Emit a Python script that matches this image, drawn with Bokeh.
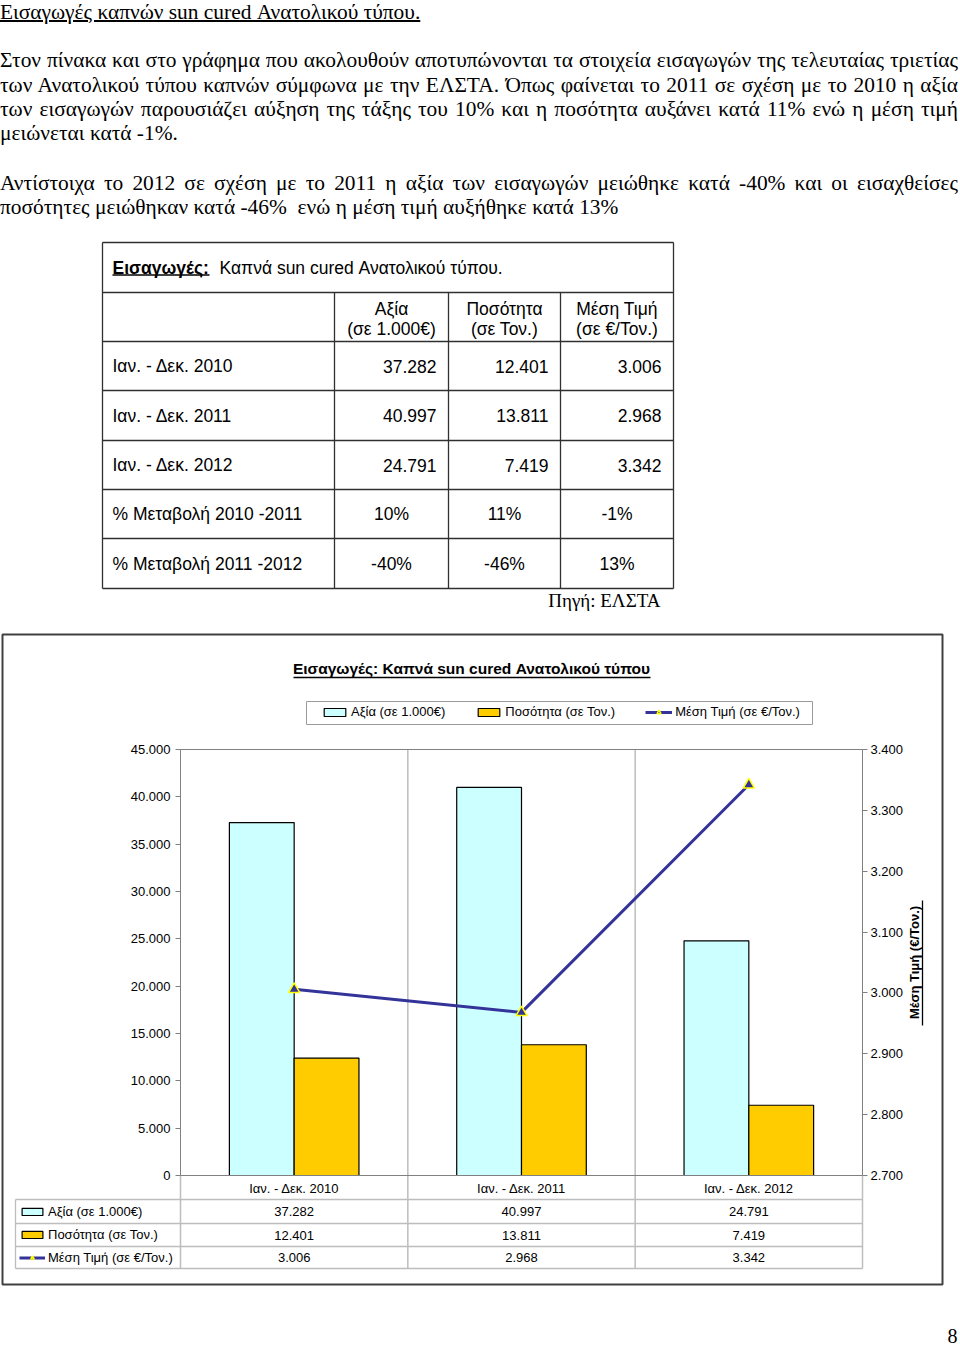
from bokeh.plotting import figure
from bokeh.models import (Range1d, LinearAxis, FixedTicker, Legend, LegendItem, Div,
                          ColumnDataSource, CustomJSTickFormatter)
from bokeh.transform import dodge
from bokeh.layouts import column
from bokeh.embed import file_html
from bokeh.resources import INLINE
from bokeh.core.properties import value
import math

# ---------------- data ----------------
periods = ["Ιαν. - Δεκ. 2010", "Ιαν. - Δεκ. 2011", "Ιαν. - Δεκ. 2012"]
value_keur = [37282, 40997, 24791]          # Αξία (σε 1.000€)
quantity_t = [12401, 13811, 7419]           # Ποσότητα (σε Τον.)
price_eur_t = [3006, 2968, 3342]            # Μέση Τιμή (σε €/Τον.)
change_labels = ["% Μεταβολή  2010 -2011", "% Μεταβολή  2011 -2012"]
change_value = ["10%", "-40%"]
change_qty = ["11%", "-46%"]
change_price = ["-1%", "13%"]
series_names = ["Αξία (σε 1.000€)", "Ποσότητα (σε Τον.)", "Μέση Τιμή (σε €/Τον.)"]
col_heads = [("Αξία", "(σε 1.000€)"), ("Ποσότητα", "(σε Τον.)"), ("Μέση Τιμή", "(σε €/Τον.)")]
left_ticks = [0, 5000, 10000, 15000, 20000, 25000, 30000, 35000, 40000, 45000]
right_ticks = [2700, 2800, 2900, 3000, 3100, 3200, 3300, 3400]

SANS = "Liberation Sans"
SERIF = "Liberation Serif"


def fmt(v):
    return f"{v:,}".replace(",", ".")


# ---------------- top text (justified paragraphs, HTML) ----------------
SX = 1.07
text_lines = [
    (18.3, "Εισαγωγές καπνών sun cured Ανατολικού τύπου.", "title"),
    (67.0, "Στον πίνακα και στο γράφημα που ακολουθούν αποτυπώνονται τα στοιχεία εισαγωγών της τελευταίας τριετίας", "j"),
    (91.5, "των Ανατολικού τύπου καπνών σύμφωνα με την ΕΛΣΤΑ. Όπως φαίνεται το 2011 σε σχέση με το 2010 η αξία", "j"),
    (116.0, "των εισαγωγών παρουσιάζει αύξηση της τάξης του 10% και η ποσότητα αυξάνει κατά 11% ενώ η μέση τιμή", "j"),
    (140.0, "μειώνεται κατά -1%.", "l"),
    (190.0, "Αντίστοιχα το 2012 σε σχέση με το 2011 η αξία των εισαγωγών μειώθηκε κατά -40% και οι εισαχθείσες", "j"),
    (214.0, "ποσότητες μειώθηκαν κατά -46%&nbsp; ενώ η μέση τιμή αυξήθηκε κατά 13%", "l"),
]
parts = []
for base, txt_, kind in text_lines:
    top = base - 16.75
    style = (f"position:absolute;left:0;top:{top:.1f}px;line-height:20px;white-space:nowrap;"
             f"transform:scaleX({SX});transform-origin:0 0;")
    if kind == "j":
        style += f"width:{958 / SX:.1f}px;text-align:justify;text-align-last:justify;"
    elif kind == "title":
        style += "text-decoration:underline;"
    parts.append(f'<div style="{style}">{txt_}</div>')
html = (f'<div style="position:relative;width:960px;height:230px;font-family:\'{SERIF}\',serif;'
        f'font-size:20px;color:#000;">' + "".join(parts) + "</div>")
div = Div(text=html, width=960, height=230, margin=0)

# ---------------- one canvas for table + chart (page pixel coordinates) ----------------
PT, PB = 230, 1345                     # page span of this canvas
FL, FR, FT, FB = 180, 862, 749, 1175   # plot-area edges on the page
VMAX, PMIN, PMAX = 45000, 2700, 3400

fp = figure(width=960, height=PB - PT, x_range=Range1d(0, 960), y_range=Range1d(PB, PT),
            x_axis_type=None, y_axis_type=None, min_border=0, outline_line_color=None,
            title=None, toolbar_location=None, output_backend="svg", margin=0)
fp.grid.visible = False
fp.background_fill_color = "white"

unit = (FR - FL) / len(periods)
fp.extra_x_ranges = {"cat": Range1d((0 - FL) / unit, (960 - FL) / unit)}
vpp = VMAX / (FB - FT)
ppp = (PMAX - PMIN) / (FB - FT)
fp.extra_y_ranges = {"val": Range1d((FB - PB) * vpp, (FB - PT) * vpp),
                     "price": Range1d(PMIN + (FB - PB) * ppp, PMIN + (FB - PT) * ppp)}


def txt(x, y, t, size, align="left", font=SANS, style="normal", angle=0.0, **kw):
    fp.text(x=x, y=y, text=t, text_font=value(font), text_font_size=size,
            text_font_style=style, text_baseline="middle", text_align=align,
            text_color="#000", angle=angle, **kw)


# ---- summary table ----
rows = [242, 292, 341, 390, 440, 489, 538, 588]
cols = [102, 334, 448, 560, 673]
x0s, y0s, x1s, y1s = [], [], [], []
for y in rows:
    x0s.append(cols[0]); x1s.append(cols[-1]); y0s.append(y); y1s.append(y)
for i, x in enumerate(cols):
    x0s.append(x); x1s.append(x)
    y0s.append(rows[0] if i in (0, len(cols) - 1) else rows[1]); y1s.append(rows[-1])
fp.segment(x0=x0s, y0=y0s, x1=x1s, y1=y1s, line_color="#303030", line_width=1.3)

tfs = "17.5px"
txt([112], [267], ["Εισαγωγές:"], tfs, style="bold")
fp.segment(x0=[112], y0=[274.5], x1=[209], y1=[274.5], line_color="#000", line_width=1.4)
txt([219], [267], ["Καπνά sun cured Ανατολικού τύπου."], tfs)
centers = [(cols[i] + cols[i + 1]) / 2 for i in range(1, 4)]
txt(centers, [308] * 3, [h[0] for h in col_heads], tfs, align="center")
txt(centers, [328] * 3, [h[1] for h in col_heads], tfs, align="center")
row_mid = [(rows[k] + rows[k + 1]) / 2 for k in range(2, 7)]
txt([112] * 5, row_mid, periods + change_labels, tfs)
for c, arr in enumerate([value_keur, quantity_t, price_eur_t]):
    txt([cols[c + 2] - 12] * 3, row_mid[:3], [fmt(v) for v in arr], tfs, align="right")
for c, arr in enumerate([change_value, change_qty, change_price]):
    txt([centers[c]] * 2, row_mid[3:], arr, tfs, align="center")
txt([660], [600], ["Πηγή: ΕΛΣΤΑ"], "19px", align="right", font=SERIF)

# ---- chart ----
cx = [i + 0.5 for i in range(len(periods))]
src = ColumnDataSource(dict(cx=cx, val=value_keur, qty=quantity_t, price=price_eur_t))

GRID = "#BDBDBD"
tab_rows = [1199, 1223, 1246, 1268]
edges = list(range(len(periods) + 1))
fp.segment(x0=edges, x1=edges,
           y0=[FB if i in (0, len(edges) - 1) else FT for i in edges],
           y1=[tab_rows[-1]] * len(edges), x_range_name="cat", line_color=GRID, line_width=1.5)
fp.segment(x0=[15] * len(tab_rows), x1=[FR] * len(tab_rows), y0=tab_rows, y1=tab_rows,
           line_color=GRID, line_width=1.3)
fp.segment(x0=[15], x1=[15], y0=[tab_rows[0]], y1=[tab_rows[-1]], line_color=GRID,
           line_width=1.3)
# plot-area top border
fp.segment(x0=[0], x1=[len(periods)], y0=[VMAX], y1=[VMAX], x_range_name="cat",
           y_range_name="val", line_color="#808080", line_width=1)

# box behind the top legend
fp.rect(x=[(306 + 812) / 2], y=[(701 + 724) / 2], width=[506], height=[23],
        fill_color="white", line_color="#9A9A9A", line_width=1)

r1 = fp.vbar(x=dodge("cx", -0.1425), top="val", bottom=0, width=0.285, source=src,
             x_range_name="cat", y_range_name="val",
             fill_color="#CCFFFF", line_color="#000000", line_width=1.2)
r2 = fp.vbar(x=dodge("cx", 0.1425), top="qty", bottom=0, width=0.285, source=src,
             x_range_name="cat", y_range_name="val",
             fill_color="#FFCC00", line_color="#000000", line_width=1.2)
r3 = fp.line(x="cx", y="price", source=src, x_range_name="cat", y_range_name="price",
             line_color="#333399", line_width=3)
r4 = fp.scatter(x="cx", y="price", source=src, x_range_name="cat", y_range_name="price",
                marker="triangle", size=11, fill_color="#333399", line_color="#FFFF00",
                line_width=1.5)

thousands = CustomJSTickFormatter(code="""
var s = Math.round(tick).toString();
return s.replace(/\\B(?=(\\d{3})+(?!\\d))/g, ".");
""")
ya = LinearAxis(y_range_name="val", fixed_location=FL, bounds=(0, VMAX),
                ticker=FixedTicker(ticks=left_ticks), formatter=thousands)
ra = LinearAxis(y_range_name="price", fixed_location=FR, bounds=(PMIN, PMAX),
                ticker=FixedTicker(ticks=right_ticks), formatter=thousands)
xa = LinearAxis(x_range_name="cat", y_range_name="val", fixed_location=0,
                bounds=(0, len(periods)), ticker=FixedTicker(ticks=cx),
                formatter=CustomJSTickFormatter(args=dict(labels=periods),
                                                code="return labels[Math.round(tick - 0.5)];"))
for ax in (ya, ra, xa):
    ax.axis_line_color = "#808080"
    ax.major_tick_line_color = "#808080"
    ax.major_tick_out = 5
    ax.major_tick_in = 0
    ax.minor_tick_out = 0
    ax.minor_tick_in = 0
    ax.major_label_text_font = SANS
    ax.major_label_text_font_size = "13px"
    ax.major_label_text_color = "#000"
ya.major_label_standoff = 5
ra.major_label_standoff = 3
xa.major_tick_out = 0
xa.major_label_standoff = 5
fp.add_layout(ya, "left")
fp.add_layout(ra, "right")
fp.add_layout(xa, "below")

# data table values
row_c = [(tab_rows[k] + tab_rows[k + 1]) / 2 for k in range(3)]
for j, arr in enumerate([value_keur, quantity_t, price_eur_t]):
    txt(cx, [row_c[j]] * len(cx), [fmt(v) for v in arr], "13px", align="center",
        x_range_name="cat")

# legends
leg_top = Legend(items=[LegendItem(label=series_names[0], renderers=[r1]),
                        LegendItem(label=series_names[1], renderers=[r2]),
                        LegendItem(label=series_names[2], renderers=[r3, r4])],
                 location=(316, PB - 724), orientation="horizontal", glyph_width=27,
                 glyph_height=10, label_standoff=3, spacing=30, padding=5, label_height=13,
                 label_text_font=SANS, label_text_font_size="13px", label_text_color="#000",
                 border_line_alpha=0, background_fill_alpha=0, margin=0)
fp.add_layout(leg_top)
leg_tab = Legend(items=[LegendItem(label=series_names[0], renderers=[r1]),
                        LegendItem(label=series_names[1], renderers=[r2]),
                        LegendItem(label=series_names[2], renderers=[r3, r4])],
                 location=(19, PB - 1267), orientation="vertical", glyph_width=26,
                 glyph_height=9, label_standoff=3, spacing=3, padding=0, label_height=20,
                 label_text_font=SANS, label_text_font_size="13px", label_text_color="#000",
                 border_line_alpha=0, background_fill_alpha=0, margin=0)
fp.add_layout(leg_tab)

# chart title and right axis title
txt([471], [668], ["Εισαγωγές: Καπνά sun cured Ανατολικού τύπου"], "15.5px", align="center",
    style="bold")
fp.segment(x0=[293], y0=[677], x1=[650], y1=[677], line_color="#000", line_width=1.4)
txt([914], [962], ["Μέση Τιμή (€/Τον.)"], "13px", align="center", style="bold",
    angle=math.pi / 2)
fp.segment(x0=[922], y0=[900], x1=[922], y1=[1025], line_color="#000", line_width=1.3)

# outer chart border
fp.rect(x=[(2 + 942) / 2], y=[(634 + 1284) / 2], width=[940], height=[650],
        fill_alpha=0, line_color="#404040", line_width=2)

# page number
txt([952], [1335], ["8"], "20px", align="center", font=SERIF)

layout = column(div, fp, spacing=0, margin=0)
with open("out.html", "w", encoding="utf-8") as f:
    f.write(file_html(layout, INLINE))
